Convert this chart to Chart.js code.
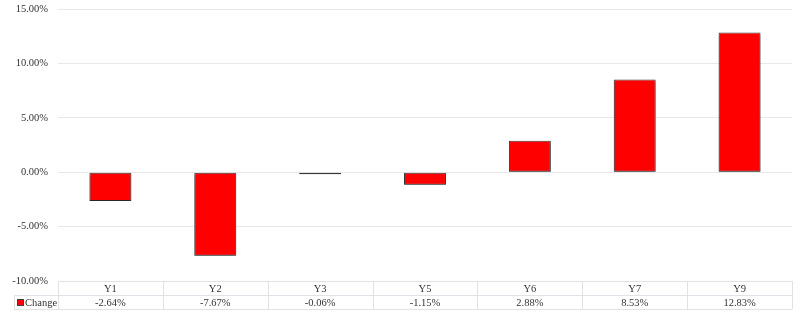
<!DOCTYPE html>
<html>
<head>
<meta charset="utf-8">
<script src="https://cdn.jsdelivr.net/npm/chart.js@4.4.1/dist/chart.umd.min.js"></script>
<style>
  html, body { margin: 0; padding: 0; background: #fff; }
  #wrap { width: 800px; height: 313px; }
</style>
</head>
<body>
<div id="wrap"><canvas id="chart"></canvas></div>
<script>
// Categories and values
const categories = ['Y1', 'Y2', 'Y3', 'Y5', 'Y6', 'Y7', 'Y9'];
const changeValues = [-2.64, -7.67, -0.06, -1.15, 2.88, 8.53, 12.83];
const seriesName = 'Change';

const FONT = "'Liberation Serif', 'Times New Roman', serif";
const TEXT = '#333333';
const LINE = '#dfe3e8';

function pct(v) {
    return v.toFixed(2) + '%';
}

// Soft shadow under the bars
const barShadow = {
    id: 'barShadow',
    beforeDatasetDraw(chart) {
        const ctx = chart.ctx;
        ctx.save();
        ctx.shadowColor = 'rgba(0, 0, 0, 0.35)';
        ctx.shadowBlur = 2;
        ctx.shadowOffsetY = 2;
    },
    afterDatasetDraw(chart) {
        chart.ctx.restore();
    }
};

// Excel-like data table under the plot
const dataTable = {
    id: 'dataTable',
    afterDraw(chart) {
        const ctx = chart.ctx;
        const area = chart.chartArea;
        const xs = chart.scales.x;
        const colW = area.width / categories.length;
        const rowH = 14;
        const top = Math.round(area.bottom);
        const labelLeft = 14;

        ctx.save();
        ctx.strokeStyle = LINE;
        ctx.lineWidth = 1;
        ctx.beginPath();
        // horizontal lines
        ctx.moveTo(area.left, top + 0.5);
        ctx.lineTo(area.right, top + 0.5);
        ctx.moveTo(labelLeft, top + rowH + 0.5);
        ctx.lineTo(area.right, top + rowH + 0.5);
        ctx.moveTo(labelLeft, top + 2 * rowH + 0.5);
        ctx.lineTo(area.right, top + 2 * rowH + 0.5);
        // vertical lines
        ctx.moveTo(labelLeft + 0.5, top + rowH);
        ctx.lineTo(labelLeft + 0.5, top + 2 * rowH);
        for (let i = 0; i <= categories.length; i++) {
            const x = Math.round(area.left + i * colW) + 0.5;
            ctx.moveTo(x, top);
            ctx.lineTo(x, top + 2 * rowH);
        }
        ctx.stroke();

        ctx.fillStyle = TEXT;
        ctx.font = '10.5px ' + FONT;
        ctx.textAlign = 'center';
        ctx.textBaseline = 'middle';
        categories.forEach((c, i) => {
            const cx = xs.getPixelForValue(i);
            ctx.fillText(c, cx, top + rowH / 2 + 1);
            ctx.fillText(pct(changeValues[i]), cx, top + rowH * 1.5 + 1);
        });

        // legend key + series name
        const ky = top + rowH * 1.5 - 3;
        ctx.fillStyle = '#ff0000';
        ctx.fillRect(labelLeft + 3, ky, 7, 7);
        ctx.strokeStyle = '#404040';
        ctx.strokeRect(labelLeft + 3.5, ky + 0.5, 6, 6);
        ctx.fillStyle = TEXT;
        ctx.textAlign = 'left';
        ctx.fillText(seriesName, labelLeft + 11, top + rowH * 1.5 + 1);
        ctx.restore();
    }
};

new Chart(document.getElementById('chart'), {
    type: 'bar',
    data: {
        labels: categories,
        datasets: [{
            label: seriesName,
            data: changeValues,
            backgroundColor: '#ff0000',
            borderColor: '#3a3a3a',
            borderWidth: 1,
            borderSkipped: false,
            minBarLength: 2,
            categoryPercentage: 1.0,
            barPercentage: 0.4
        }]
    },
    options: {
        responsive: true,
        maintainAspectRatio: false,
        animation: false,
        layout: { padding: { left: 0, right: 8, top: 9, bottom: 32 } },
        plugins: {
            legend: { display: false },
            tooltip: { enabled: false }
        },
        scales: {
            x: {
                afterFit(scale) { scale.height = 0; },
                grid: { display: false },
                border: { display: false },
                ticks: { display: false, padding: 0 }
            },
            y: {
                min: -10,
                max: 15,
                afterFit(scale) {
                    scale.width = 58;
                    scale.paddingTop = 0;
                    scale.paddingBottom = 0;
                },
                ticks: {
                    stepSize: 5,
                    padding: 10,
                    color: TEXT,
                    font: { family: FONT, size: 10.5 },
                    callback: v => pct(v)
                },
                grid: { color: '#e8e8e8', drawTicks: false },
                border: { display: false }
            }
        }
    },
    plugins: [barShadow, dataTable]
});
</script>
</body>
</html>
